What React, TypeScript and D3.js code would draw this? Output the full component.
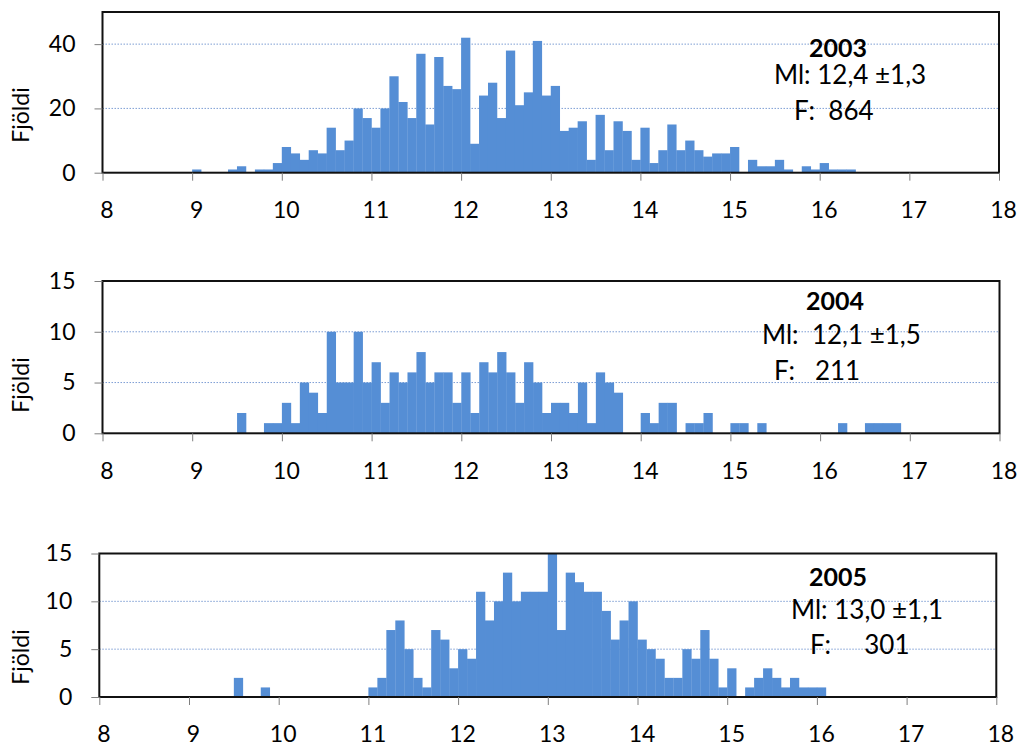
import React, { useEffect, useRef } from 'react';
import * as d3 from 'd3';

// length classes 9.0 .. 16.9 cm, 0.1 cm wide
const lengthClasses = d3.range(90, 170).map(d => d / 10);

const counts2003 = [
  1, 0, 0, 0, 1, 2, 0, 1, 1, 3,
  8, 6, 4, 7, 6, 14, 7, 10, 20, 17,
  14, 20, 30, 22, 17, 37, 15, 36, 27, 26,
  42, 9, 24, 28, 17, 38, 21, 25, 41, 24,
  27, 13, 14, 16, 4, 18, 7, 16, 13, 4,
  14, 3, 7, 15, 7, 10, 7, 5, 6, 6,
  8, 0, 4, 2, 2, 4, 1, 0, 2, 1,
  3, 1, 1, 1, 0, 0, 0, 0, 0, 0,
];

const counts2004 = [
  0, 0, 0, 0, 0, 2, 0, 0, 1, 1,
  3, 1, 5, 4, 2, 10, 5, 5, 10, 5,
  7, 3, 6, 5, 6, 8, 5, 6, 6, 3,
  6, 2, 7, 6, 8, 6, 3, 7, 5, 2,
  3, 3, 2, 5, 1, 6, 5, 4, 0, 0,
  2, 1, 3, 3, 0, 1, 1, 2, 0, 0,
  1, 1, 0, 1, 0, 0, 0, 0, 0, 0,
  0, 0, 1, 0, 0, 1, 1, 1, 1, 0,
];

const counts2005 = [
  0, 0, 0, 0, 0, 2, 0, 0, 1, 0,
  0, 0, 0, 0, 0, 0, 0, 0, 0, 0,
  1, 2, 7, 8, 5, 2, 1, 7, 6, 3,
  5, 4, 11, 8, 10, 13, 10, 11, 11, 11,
  15, 7, 13, 12, 11, 11, 9, 6, 8, 10,
  6, 5, 4, 2, 2, 5, 4, 7, 4, 1,
  3, 0, 1, 2, 3, 2, 1, 2, 1, 1,
  1, 0, 0, 0, 0, 0, 0, 0, 0, 0,
];

const xTicks = [8, 9, 10, 11, 12, 13, 14, 15, 16, 17, 18];
const yTicks2003 = [0, 20, 40];
const yTicks2004 = [0, 5, 10, 15];
const yTicks2005 = [0, 5, 10, 15];

const yearLabels = ['2003', '2004', '2005'];
const meanLabels = ['Ml: 12,4 \u00b11,3', 'Ml:  12,1 \u00b11,5', 'Ml: 13,0 \u00b11,1'];
const countLabels = ['F:  864', 'F:   211', 'F:     301'];

const FONT = 'Lato, "Open Sans", sans-serif';
const BAR = '#558ED5';

const panels = [
  { counts: counts2003, ticks: yTicks2003, yMax: 50, grid: [20, 40], left: 102.5, right: 999, top: 12, bottom: 172.7,
    yearX: 838, yearY: 56.5, mlX: 774, mlY: 83.5, fX: 794, fY: 119.5, labelY: 115 },
  { counts: counts2004, ticks: yTicks2004, yMax: 15, grid: [5, 10], left: 102.5, right: 999.5, top: 281, bottom: 433.3,
    yearX: 835, yearY: 310, mlX: 762, mlY: 344, fX: 774, fY: 380, labelY: 385 },
  { counts: counts2005, ticks: yTicks2005, yMax: 15, grid: [5, 10], left: 99.3, right: 996.3, top: 553.5, bottom: 697,
    yearX: 838, yearY: 586, mlX: 791, mlY: 619, fX: 810, fY: 654, labelY: 657 },
];

export default function App() {
  const svgRef = useRef<SVGSVGElement>(null);

  useEffect(() => {
    if (!svgRef.current) return;
    const svg = d3.select(svgRef.current);
    svg.selectAll('*').remove();

    panels.forEach((p, i) => {
      const x = d3.scaleLinear().domain([8, 18]).range([p.left, p.right]);
      const y = d3.scaleLinear().domain([0, p.yMax]).range([p.bottom, p.top]);
      const g = svg.append('g');

      g.selectAll('line.grid')
        .data(p.grid)
        .join('line')
        .attr('x1', p.left).attr('x2', p.right)
        .attr('y1', d => y(d)).attr('y2', d => y(d))
        .attr('stroke', '#6f93cf')
        .attr('stroke-width', 0.9)
        .attr('stroke-dasharray', '1.5 1.5');

      const bars = lengthClasses.map((c, j) => ({ c, n: p.counts[j] })).filter(d => d.n > 0);
      g.selectAll('rect.bar')
        .data(bars)
        .join('rect')
        .attr('x', d => x(d.c))
        .attr('width', d => x(d.c + 0.1) - x(d.c) + 0.3)
        .attr('y', d => y(d.n))
        .attr('height', d => y(0) - y(d.n))
        .attr('fill', BAR);

      g.append('rect')
        .attr('x', p.left).attr('y', p.top)
        .attr('width', p.right - p.left).attr('height', p.bottom - p.top)
        .attr('fill', 'none')
        .attr('stroke', '#111')
        .attr('stroke-width', 2);

      g.append('g')
        .attr('transform', `translate(${p.left},0)`)
        .call(d3.axisLeft(y).tickValues(p.ticks).tickSize(8).tickPadding(19))
        .call(a => a.select('.domain').remove())
        .call(a => a.selectAll('.tick line').attr('stroke', '#7f7f7f'))
        .call(a => a.selectAll('.tick text').attr('fill', '#000').attr('font-family', FONT).attr('font-size', '23px'));

      g.append('g')
        .attr('transform', `translate(0,${p.bottom})`)
        .call(d3.axisBottom(x).tickValues(xTicks).tickSize(8).tickPadding(21))
        .call(a => a.select('.domain').remove())
        .call(a => a.selectAll('.tick line').attr('stroke', '#7f7f7f'))
        .call(a => a.selectAll('.tick text').attr('fill', '#000').attr('dx', 4).attr('font-family', FONT).attr('font-size', '23px'));

      g.append('text')
        .attr('transform', `translate(29,${p.labelY}) rotate(-90)`)
        .attr('text-anchor', 'middle')
        .attr('font-family', FONT).attr('font-size', '23px')
        .text('Fjöldi');

      g.append('text')
        .attr('x', p.yearX).attr('y', p.yearY)
        .attr('text-anchor', 'middle')
        .attr('font-family', FONT).attr('font-size', '25px').attr('font-weight', 'bold')
        .text(yearLabels[i]);

      g.append('text')
        .attr('x', p.mlX).attr('y', p.mlY)
        .style('white-space', 'pre')
        .attr('font-family', FONT).attr('font-size', '26px')
        .text(meanLabels[i]);

      g.append('text')
        .attr('x', p.fX).attr('y', p.fY)
        .style('white-space', 'pre')
        .attr('font-family', FONT).attr('font-size', '26px')
        .text(countLabels[i]);
    });
  }, []);

  return (
    <svg
      ref={svgRef}
      width={1019}
      height={747}
      style={{ position: 'absolute', left: 0, top: 0, background: '#fff' }}
    />
  );
}
